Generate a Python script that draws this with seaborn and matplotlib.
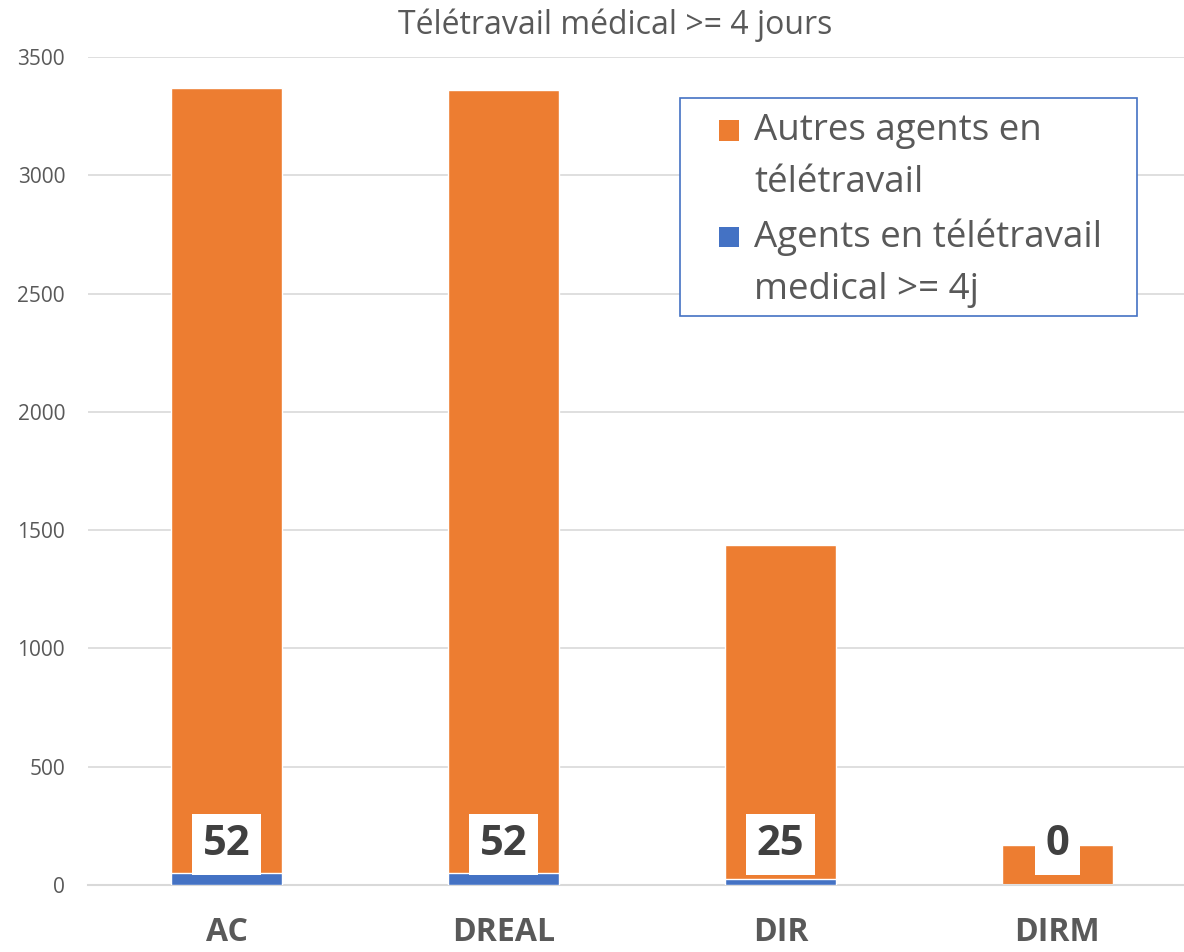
import matplotlib
matplotlib.use("Agg")
import matplotlib.pyplot as plt
import seaborn as sns
import pandas as pd
from matplotlib.patches import Patch, Rectangle
from matplotlib.legend_handler import HandlerBase

categories = ["AC", "DREAL", "DIR", "DIRM"]
medical = [52, 52, 25, 0]
autres = [3317, 3308, 1412, 169]
label_texts = ["52", "52", "25", "0"]
legend_labels = ["Autres agents en\ntélétravail", "Agents en télétravail\nmedical >= 4j"]

sns.set_theme(style="white")
plt.rcParams['font.family'] = ['Open Sans', 'DejaVu Sans']

ORANGE = "#ED7D31"
BLUE = "#4472C4"
GRAY = "#595959"

totals = [m + a for m, a in zip(medical, autres)]
df = pd.DataFrame({"cat": categories, "total": totals, "medical": medical})

W, H = 1184, 952
fig = plt.figure(figsize=(W / 100, H / 100), dpi=100)
ax = fig.add_axes([88 / W, (H - 885) / H, (W - 88) / W, 828 / H])

sns.barplot(data=df, x="cat", y="total", color=ORANGE, width=0.4, ax=ax,
            saturation=1, zorder=2)
sns.barplot(data=df, x="cat", y="medical", color=BLUE, width=0.4, ax=ax,
            saturation=1, zorder=3)

ax.set_ylim(0, 3500)
ax.set_xlim(-0.5, 3.457)
ax.set_yticks(range(0, 3501, 500))
ax.yaxis.grid(True, color="#D9D9D9", linewidth=1.2, zorder=0)
ax.set_axisbelow(True)
for s in ["top", "right", "left"]:
    ax.spines[s].set_visible(False)
ax.spines["bottom"].set_color("#D9D9D9")
ax.spines["bottom"].set_linewidth(1.5)
ax.set_xlabel("")
ax.set_ylabel("")
ax.tick_params(axis="y", labelsize=15, colors=GRAY, length=0, pad=16.5)
ax.tick_params(axis="x", labelsize=23, colors=GRAY, length=0, pad=22)
for lbl in ax.get_xticklabels():
    lbl.set_fontweight("bold")

for i, t in enumerate(label_texts):
    ax.text(i, 171, t, ha="center", va="center", fontsize=30, fontweight="bold",
            color="#404040", zorder=5,
            bbox=dict(boxstyle="square,pad=0.25", fc="white", ec="none"))

fig.text(615 / W, 1 - 25 / H, "Télétravail médical >= 4 jours", ha="center",
         va="center", fontsize=23, color=GRAY)

# legend frame
fig.patches.append(Rectangle((680 / W, 1 - 316 / H), (1137 - 680) / W, (316 - 98) / H,
                             transform=fig.transFigure, fill=True, fc="white",
                             ec=BLUE, lw=1.2, zorder=10))

LEG_FS = 26.5
LSP = 1.6
SQ = 14.5  # square size in points


class UpSquare(HandlerBase):
    def create_artists(self, legend, orig_handle, xdescent, ydescent, width,
                       height, fontsize, trans):
        shift = 19.5
        cy = -ydescent + height / 2.0 + shift
        p = Rectangle((-xdescent + width - SQ, cy - SQ / 2.0), SQ, SQ,
                      facecolor=orig_handle.get_facecolor(), edgecolor="none",
                      transform=trans)
        return [p]


handles = [Patch(color=ORANGE), Patch(color=BLUE)]
leg = fig.legend(handles, legend_labels,
                 loc="upper left", bbox_to_anchor=(693 / W, 1 - 113 / H),
                 fontsize=LEG_FS, frameon=False, handlelength=1.25,
                 handleheight=0.6, handletextpad=0.42, labelspacing=0.47,
                 borderpad=0.0, borderaxespad=0,
                 handler_map={Patch: UpSquare()})
leg.set_zorder(11)
for t in leg.get_texts():
    t.set_color(GRAY)
    t.set_linespacing(LSP)

fig.savefig("out.png", dpi=100)
